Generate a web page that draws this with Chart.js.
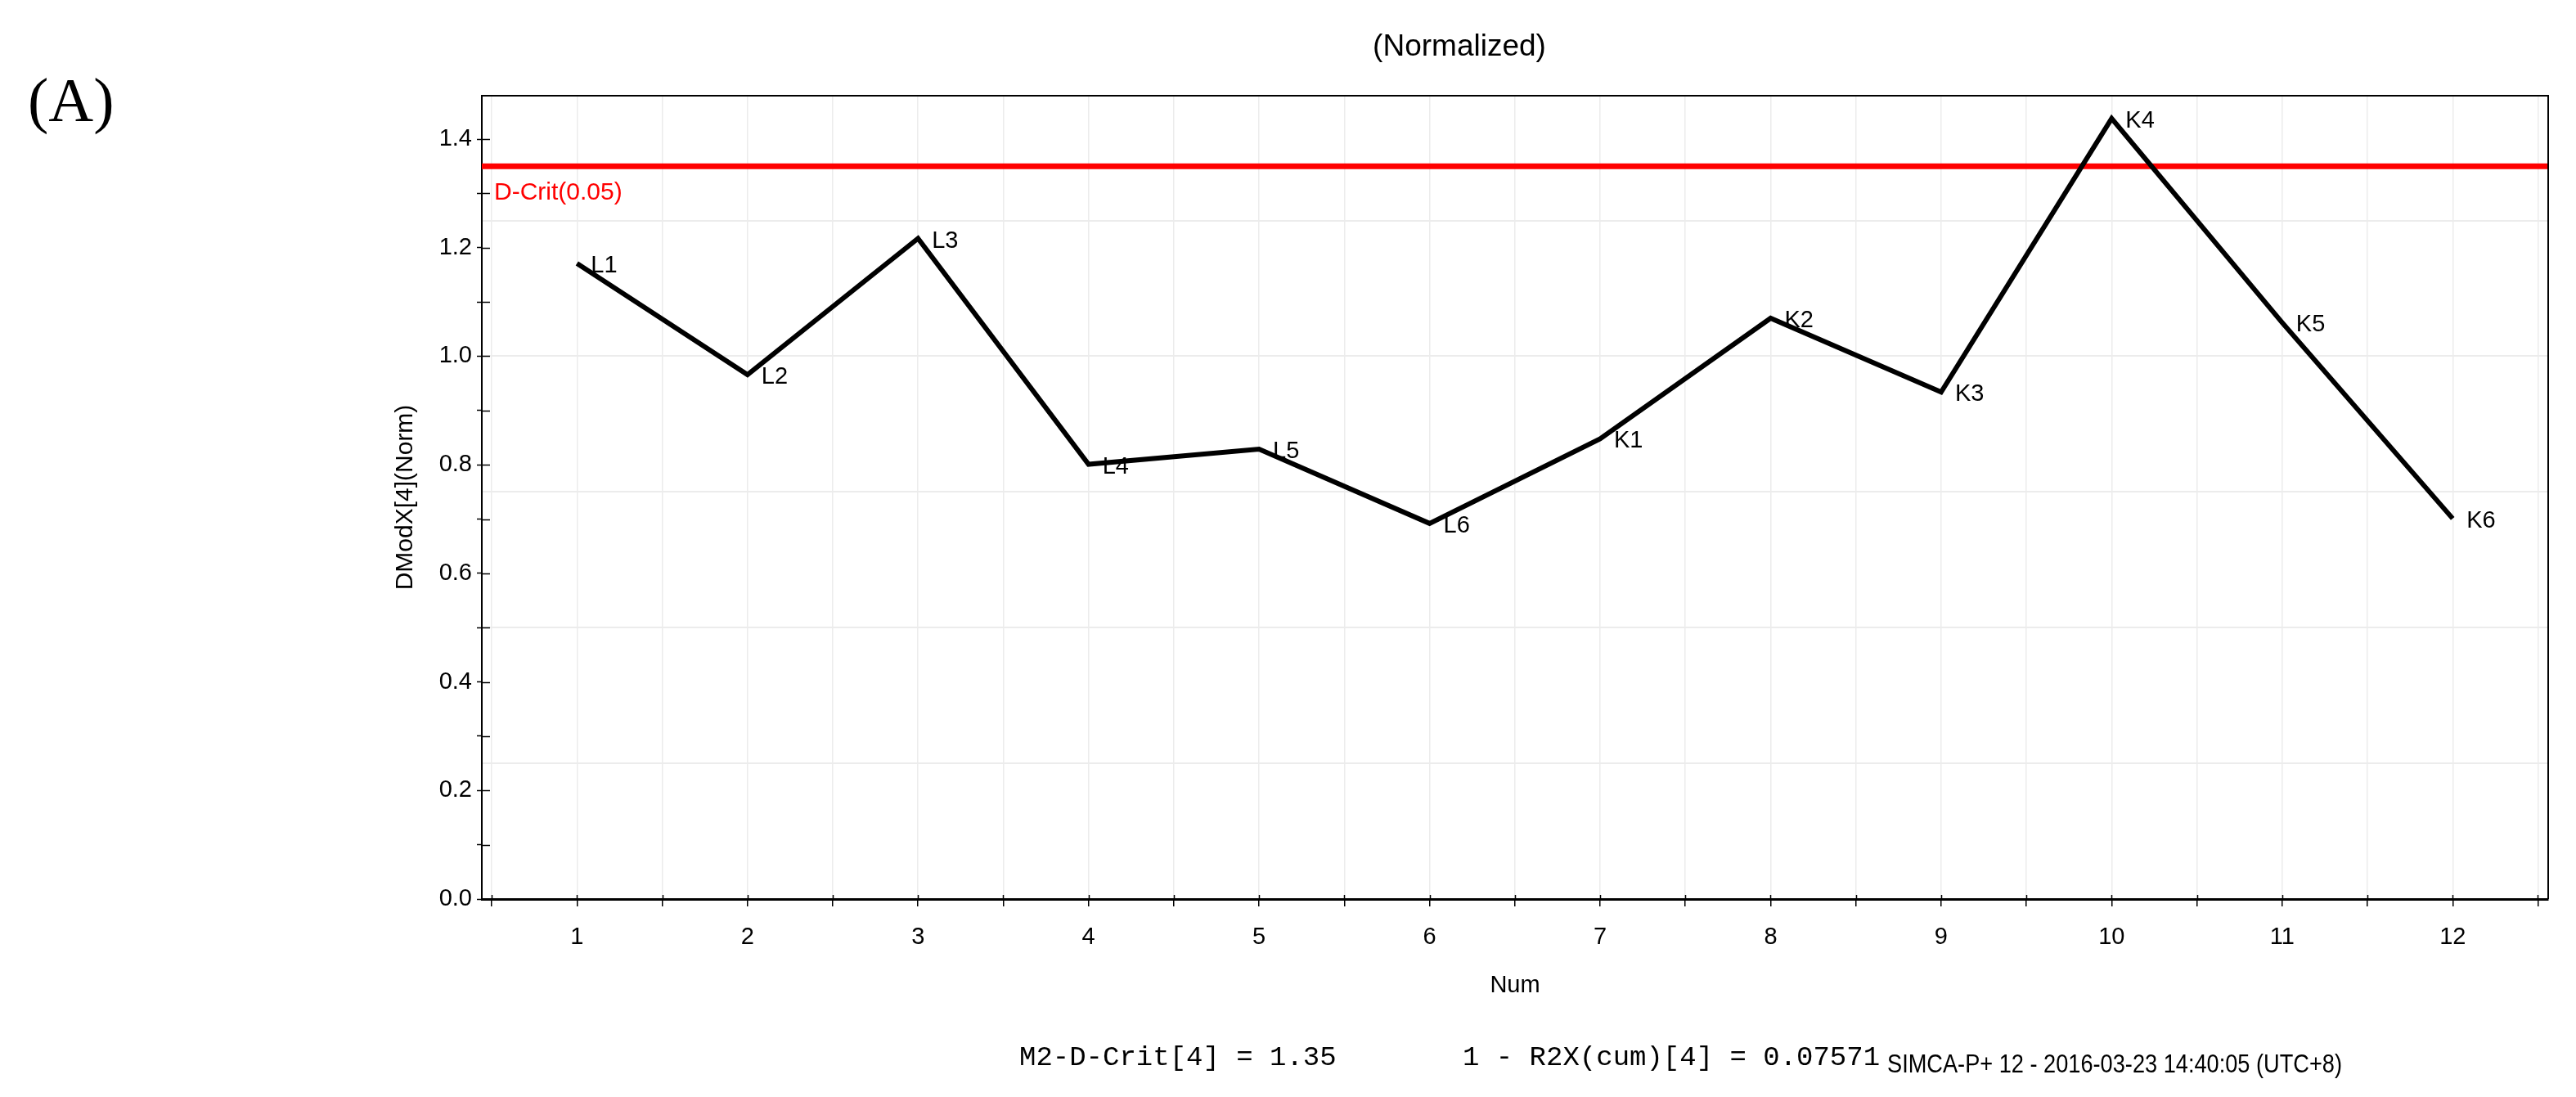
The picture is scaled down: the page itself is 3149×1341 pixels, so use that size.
<!DOCTYPE html>
<html><head><meta charset="utf-8">
<script src="https://cdn.jsdelivr.net/npm/chart.js@4.4.1/dist/chart.umd.min.js"></script>
<style>html,body{margin:0;padding:0;background:#fff;}canvas{display:block;}</style>
</head><body>
<canvas id="c" width="3149" height="1341"></canvas>
<script>
// ---- data ----
const sampleNums = [1, 2, 3, 4, 5, 6, 7, 8, 9, 10, 11, 12];
const sampleNames = ['L1', 'L2', 'L3', 'L4', 'L5', 'L6', 'K1', 'K2', 'K3', 'K4', 'K5', 'K6'];
const dmodxValues = [1.171, 0.966, 1.217, 0.801, 0.829, 0.692, 0.848, 1.070, 0.934, 1.438, 1.062, 0.701];
const critValue = 1.35;
const critLabel = 'D-Crit(0.05)';
const chartTitle = '(Normalized)';
const panelLabel = '(A)';
const xTitle = 'Num';
const yTitle = 'DModX[4](Norm)';
const footerLeft = 'M2-D-Crit[4] = 1.35';
const footerMid = '1 - R2X(cum)[4] = 0.07571';
const footerRight = 'SIMCA-P+ 12 - 2016-03-23 14:40:05 (UTC+8)';
const xRange = [0.442, 12.56];
const yRange = [0, 1.48];

const SANS = '"Liberation Sans", Arial, sans-serif';

const annot = {
  id: 'annot',
  afterDatasetsDraw(chart) {
    const {ctx, chartArea: ca, scales: {x, y}} = chart;
    ctx.save();
    ctx.font = '29px ' + SANS;
    ctx.fillStyle = '#000';
    ctx.textAlign = 'left';
    ctx.textBaseline = 'middle';
    const meta = chart.getDatasetMeta(0);
    meta.data.forEach((pt, i) => ctx.fillText(sampleNames[i], pt.x + 17, pt.y + 3));
    ctx.fillStyle = '#ff0000';
    ctx.font = '30px ' + SANS;
    ctx.fillText(critLabel, ca.left + 15, y.getPixelForValue(critValue) + 32);
    ctx.restore();
  },
  afterDraw(chart) {
    const {ctx, chartArea: ca, scales: {x, y}} = chart;
    ctx.save();
    // frame
    ctx.strokeStyle = '#000';
    ctx.lineWidth = 2;
    ctx.beginPath();
    ctx.moveTo(ca.left, ca.top); ctx.lineTo(ca.right, ca.top); ctx.lineTo(ca.right, ca.bottom);
    ctx.stroke();
    // inward tick parts
    ctx.lineWidth = 1.5;
    y.ticks.forEach(t => {
      const py = Math.round(y.getPixelForValue(t.value)) + 0.5;
      ctx.beginPath(); ctx.moveTo(ca.left, py); ctx.lineTo(ca.left + 10, py); ctx.stroke();
    });
    x.ticks.forEach(t => {
      const px = Math.round(x.getPixelForValue(t.value)) + 0.5;
      ctx.beginPath(); ctx.moveTo(px, ca.bottom); ctx.lineTo(px, ca.bottom - 5); ctx.stroke();
    });
    // title
    ctx.fillStyle = '#000';
    ctx.textAlign = 'center';
    ctx.textBaseline = 'middle';
    ctx.font = '37px ' + SANS;
    ctx.fillText(chartTitle, 1784, 58);
    // panel label
    ctx.textAlign = 'left';
    ctx.textBaseline = 'alphabetic';
    ctx.font = '76px "Liberation Serif", "Times New Roman", serif';
    ctx.fillText(panelLabel, 34, 148);
    // footer
    ctx.textBaseline = 'middle';
    ctx.font = '34px "Liberation Mono", "Courier New", monospace';
    ctx.fillText(footerLeft, 1246, 1293);
    ctx.fillText(footerMid, 1788, 1293);
    ctx.font = '32px ' + SANS;
    const w = ctx.measureText(footerRight).width;
    ctx.translate(2307, 1302);
    ctx.scale(556 / w, 1);
    ctx.fillText(footerRight, 0, 0);
    ctx.restore();
  }
};

new Chart(document.getElementById('c'), {
  type: 'line',
  data: {
    datasets: [
      {
        label: 'DModX',
        data: sampleNums.map((n, i) => ({x: n, y: dmodxValues[i]})),
        borderColor: '#000', borderWidth: 6, pointRadius: 0, tension: 0,
        borderJoinStyle: 'miter', fill: false
      },
      {
        label: 'D-Crit',
        data: [{x: xRange[0], y: critValue}, {x: xRange[1], y: critValue}],
        borderColor: '#ff0000', borderWidth: 7, pointRadius: 0, fill: false
      }
    ]
  },
  options: {
    responsive: false, animation: false, devicePixelRatio: 1,
    layout: {padding: {left: 478, right: 34, top: 117, bottom: 112}},
    plugins: {legend: {display: false}, tooltip: {enabled: false}, title: {display: false}},
    scales: {
      x: {
        type: 'linear', position: 'bottom', min: xRange[0], max: xRange[1],
        afterFit(s) { s.height = 130; },
        ticks: {
          stepSize: 0.5, includeBounds: false, autoSkip: false, maxRotation: 0, minRotation: 0,
          padding: 21, color: '#000', font: {family: SANS, size: 29},
          callback: v => Math.abs(v - Math.round(v)) < 1e-6 ? String(Math.round(v)) : ''
        },
        grid: {color: '#ececec', lineWidth: 1.5, drawTicks: true, tickLength: 9, tickColor: '#000', tickWidth: 1.5},
        border: {display: true, color: '#000', width: 3},
        title: {display: true, text: xTitle, color: '#000', font: {family: SANS, size: 29}, padding: {top: 0, bottom: 7}}
      },
      y: {
        type: 'linear', position: 'left', min: yRange[0], max: yRange[1],
        afterFit(s) { s.width = 111; },
        ticks: {
          stepSize: 0.1, includeBounds: false, autoSkip: false, padding: 6, color: '#000',
          font: {family: SANS, size: 29},
          callback: v => { const k = Math.round(v * 10); return k % 2 === 0 ? (k / 10).toFixed(1) : ''; }
        },
        grid: {drawOnChartArea: false, drawTicks: true, tickLength: 6, tickColor: '#000', tickWidth: 1.5},
        border: {display: true, color: '#000', width: 2},
        title: {display: true, text: yTitle, color: '#000', font: {family: SANS, size: 30}, padding: {top: 0, bottom: 0}}
      },
      yGrid: {
        type: 'linear', position: 'left', min: yRange[0], max: yRange[1],
        afterFit(s) { s.width = 0; },
        ticks: {display: false, stepSize: 0.25, includeBounds: false},
        grid: {color: '#ececec', lineWidth: 2, drawTicks: false},
        border: {display: false}
      }
    }
  },
  plugins: [annot]
});
</script>
</body></html>
